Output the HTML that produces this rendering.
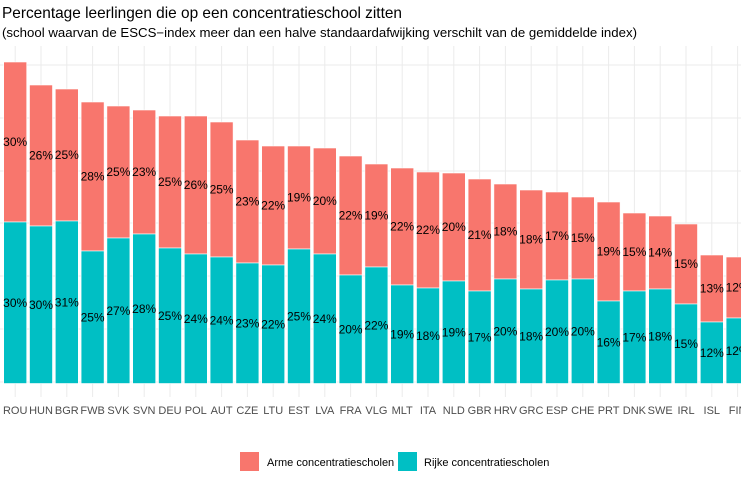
<!DOCTYPE html>
<html><head><meta charset="utf-8"><style>html,body{margin:0;padding:0;background:#fff;overflow:hidden}</style></head>
<body>
<svg width="741" height="486" xmlns="http://www.w3.org/2000/svg" font-family="Liberation Sans, Arial, sans-serif">
<rect width="741" height="486" fill="#fff"/>
<text x="2" y="18" font-size="16" fill="#000" textLength="400" lengthAdjust="spacingAndGlyphs">Percentage leerlingen die op een concentratieschool zitten</text>
<text x="2" y="37" font-size="12.5" fill="#000" textLength="635" lengthAdjust="spacingAndGlyphs">(school waarvan de ESCS−index meer dan een halve standaardafwijking verschilt van de gemiddelde index)</text>
<g stroke="#ebebeb" stroke-width="1">
<line x1="0" x2="741" y1="65" y2="65"/><line x1="0" x2="741" y1="118" y2="118"/><line x1="0" x2="741" y1="171" y2="171"/><line x1="0" x2="741" y1="223" y2="223"/><line x1="0" x2="741" y1="276" y2="276"/><line x1="0" x2="741" y1="329" y2="329"/><line x1="0" x2="741" y1="382" y2="382"/>
</g>
<g id="v" stroke="#ebebeb" stroke-width="1"></g>
<g id="bars"></g>
<g id="lab" font-size="12" fill="#000" text-anchor="middle" dominant-baseline="central"></g>
<g id="ax" font-size="11" fill="#4d4d4d" text-anchor="middle"></g>
<rect x="240" y="452" width="19" height="19" fill="#F8766D"/>
<text x="267" y="466" font-size="11" fill="#000">Arme concentratiescholen</text>
<rect x="398" y="452" width="19" height="19" fill="#00BFC4"/>
<text x="424" y="466" font-size="11" fill="#000">Rijke concentratiescholen</text>
</svg>
<script>
var d=[["ROU",62,222,30,30],["HUN",85,226,26,30],["BGR",89,221,25,31],["FWB",102,251,28,25],["SVK",106,238,25,27],["SVN",110,234,23,28],["DEU",116,248,25,25],["POL",116,254,26,24],["AUT",122,257,25,24],["CZE",140,263,23,23],["LTU",146,265,22,22],["EST",146,249,19,25],["LVA",148,254,20,24],["FRA",156,275,22,20],["VLG",164,267,19,22],["MLT",168,285,22,19],["ITA",172,288,22,18],["NLD",173,281,20,19],["GBR",179,291,21,17],["HRV",184,279,18,20],["GRC",190,289,18,18],["ESP",192,280,17,20],["CHE",197,279,15,20],["PRT",202,301,19,16],["DNK",213,291,15,17],["SWE",216,289,14,18],["IRL",224,304,15,15],["ISL",255,322,13,12],["FIN",257,318,12,12]];
var ns="http://www.w3.org/2000/svg",B=383.5;
function el(p,t,a,txt){var e=document.createElementNS(ns,t);for(var k in a)e.setAttribute(k,a[k]);if(txt)e.textContent=txt;document.getElementById(p).appendChild(e);}
d.forEach(function(r,i){var cx=15.2+25.8*i,x=cx-11.5;
el("v","line",{x1:cx,x2:cx,y1:46,y2:397});
el("bars","rect",{x:x,y:r[1],width:23,height:r[2]-r[1],fill:"#F8766D",stroke:"#fff","stroke-width":0.6});
el("bars","rect",{x:x,y:r[2],width:23,height:B-r[2],fill:"#00BFC4",stroke:"#fff","stroke-width":0.6});
el("lab","text",{x:cx,y:(r[1]+r[2])/2},r[3]+"%");
el("lab","text",{x:cx,y:(r[2]+B)/2},r[4]+"%");
el("ax","text",{x:cx,y:414},r[0]);});
</script>
</body></html>
